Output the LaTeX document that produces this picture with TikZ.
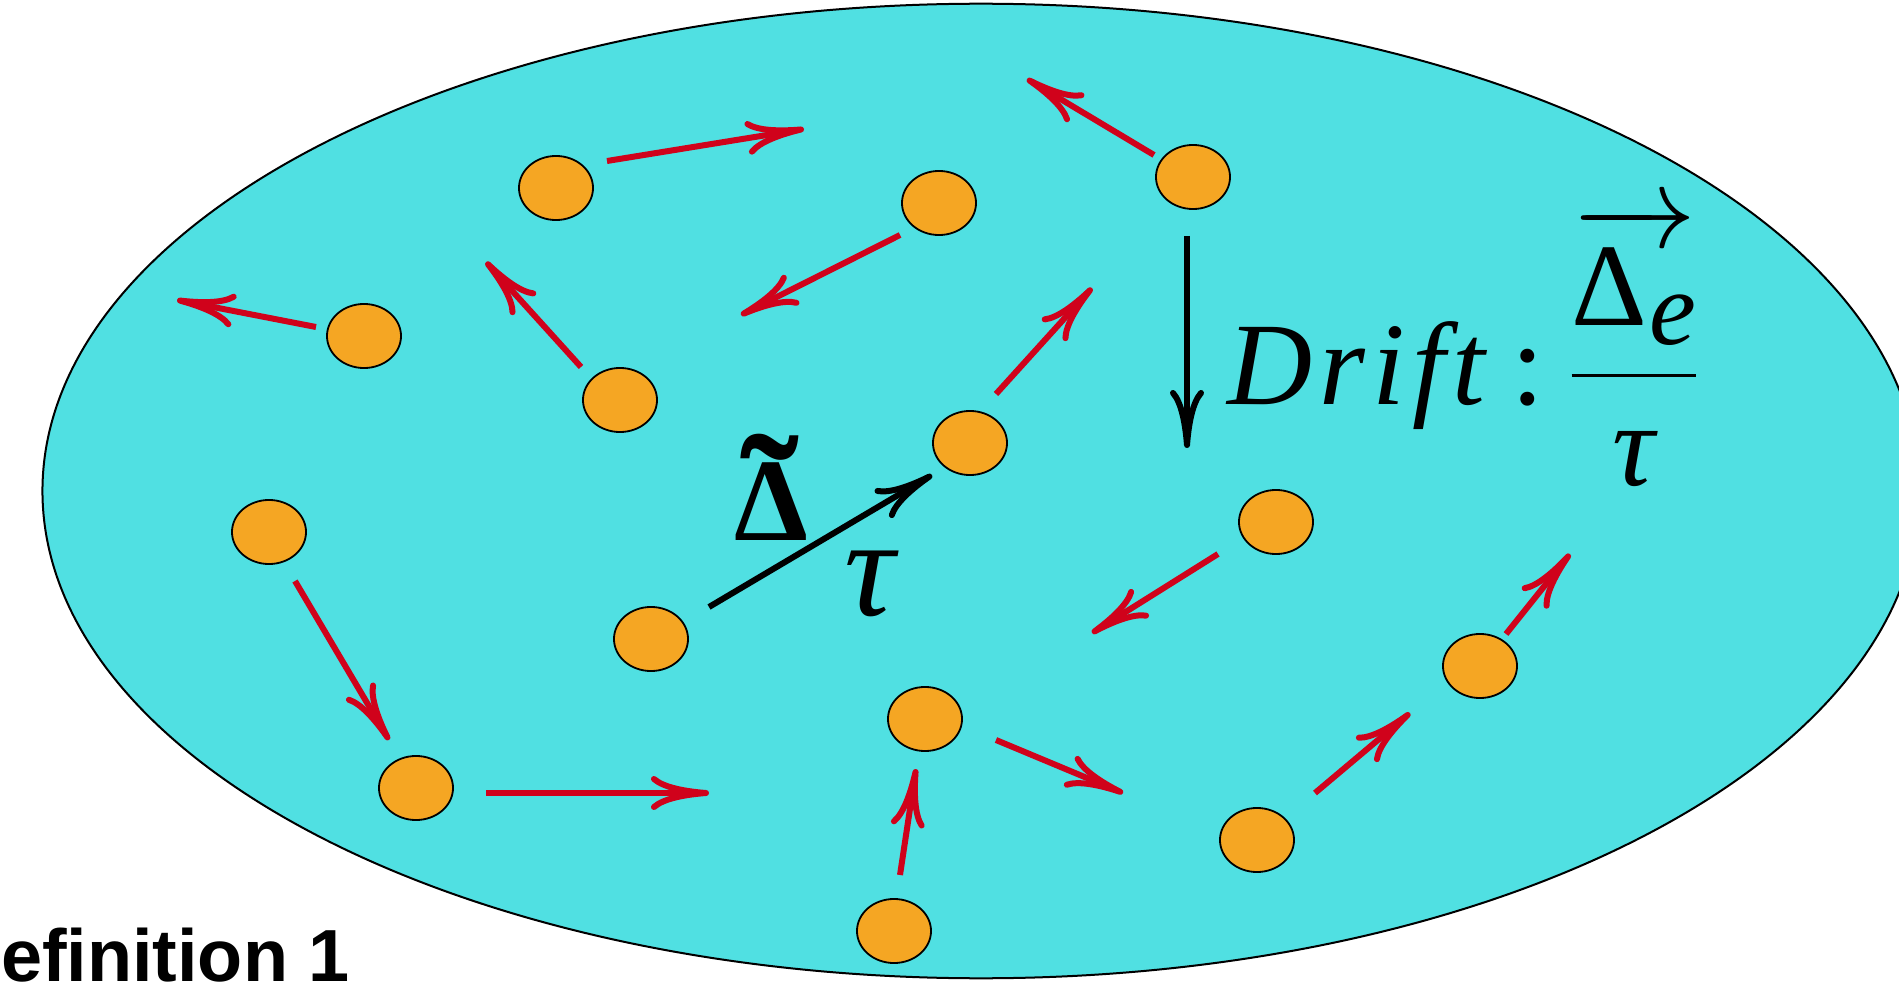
\RequirePackage{fix-cm}
\documentclass[tikz,border=0pt]{standalone}
\usepackage{fontspec}
\usepackage{amsmath}
\setmainfont{Liberation Serif}
\newfontfamily\headfont{Liberation Sans}
\usetikzlibrary{arrows.meta,shapes.geometric}

\definecolor{poolcyan}{RGB}{80,224,226}
\definecolor{dotorange}{RGB}{245,166,35}
\definecolor{movered}{RGB}{208,2,27}

\begin{document}
\begin{tikzpicture}[
  x=0.01cm, y=-0.01cm,
  >={Computer Modern Rightarrow[length=0.58cm, width=0.34cm]},
  pool/.style={draw, ellipse, line width=0.02cm, fill=poolcyan,
               minimum width=18.76cm, minimum height=9.74cm, inner sep=0pt},
  dot/.style={draw, ellipse, line width=0.018cm, fill=dotorange,
              minimum width=0.74cm, minimum height=0.64cm, inner sep=0pt},
  move/.style={->, draw=movered, line width=0.06cm},
  driftarrow/.style={->, draw=black, line width=0.06cm},
  formula/.style={inner sep=0pt, font=\fontsize{33.5}{40}\selectfont},
]
\useasboundingbox (0,0) rectangle (1899,982);
\clip (0,0) rectangle (1899,982);

% ── the pool ──
\node[pool] (pool) at (981,491) {};

% ── particles ──
\node[dot] (d1)  at (556,188) {};
\node[dot] (d2)  at (939,203) {};
\node[dot] (d3)  at (1193,177) {};
\node[dot] (d4)  at (364,336) {};
\node[dot] (d5)  at (620,400) {};
\node[dot] (d6)  at (970,443) {};
\node[dot] (d7)  at (269,532) {};
\node[dot] (d8)  at (1276,522) {};
\node[dot] (d9)  at (651,639) {};
\node[dot] (d10) at (1480,666) {};
\node[dot] (d11) at (925,719) {};
\node[dot] (d12) at (416,788) {};
\node[dot] (d13) at (1257,840) {};
\node[dot] (d14) at (894,931) {};

% ── ends of the moves (start / tip) ──
\coordinate (s1) at (607,161);   \coordinate (t1) at (804,129);
\coordinate (s2) at (900,235);   \coordinate (t2) at (741,315);
\coordinate (s3) at (1154,155);  \coordinate (t3) at (1027,79);
\coordinate (s4) at (316,327);   \coordinate (t4) at (177,300);
\coordinate (s5) at (581,367);   \coordinate (t5) at (486,262);
\coordinate (s6) at (996,394);   \coordinate (t6) at (1092,288);
\coordinate (s7) at (295,581);   \coordinate (t7) at (389,740);
\coordinate (s8) at (1218,554);  \coordinate (t8) at (1092,633);
\coordinate (s10) at (1506,634); \coordinate (t10) at (1570,554);
\coordinate (s11) at (996,740);  \coordinate (t11) at (1123,793);
\coordinate (s12) at (486,793);  \coordinate (t12) at (709,793);
\coordinate (s13) at (1315,793); \coordinate (t13) at (1410,713);
\coordinate (s14) at (900,875);  \coordinate (t14) at (916,769);
\coordinate (s9) at (709,607);   \coordinate (t9) at (932,475);
\coordinate (sd) at (1187,236);  \coordinate (td) at (1187,448);

% ── random moves ──
\draw[move] (s1) -- (t1);
\draw[move] (s2) -- (t2);
\draw[move] (s3) -- (t3);
\draw[move] (s4) -- (t4);
\draw[move] (s5) -- (t5);
\draw[move] (s6) -- (t6);
\draw[move] (s7) -- (t7);
\draw[move] (s8) -- (t8);
\draw[move] (s10) -- (t10);
\draw[move] (s11) -- (t11);
\draw[move] (s12) -- (t12);
\draw[move] (s13) -- (t13);
\draw[move] (s14) -- (t14);

% ── drift arrows ──
\draw[driftarrow] (s9) -- (t9);
\draw[driftarrow] (sd) -- (td);

% ── labels ──
\node[formula, anchor=base, font=\bfseries\fontsize{33.5}{40}\selectfont] (dtilde) at (771,540) {Δ};
\node[formula, anchor=base, font=\bfseries\fontsize{50}{56}\selectfont] (tildemark) at (770,557) {˜};
\node[inner sep=0pt, anchor=base, font=\fontsize{40}{48}\selectfont] (tau) at (872,615) {\textit{τ}};
\node[formula, anchor=base west] (drift) at (1227,405)
  {\textit{D\kern.06em r\kern.06em i\kern.06em f\kern.06em t}\hspace{0.2em}:\hspace{0.2em}%
   $\dfrac{\overrightarrow{\text{Δ\kern.02em\raisebox{-0.16em}{\fontsize{30}{36}\selectfont\itshape e}}}}{\text{\itshape τ}}$};
\node[inner sep=0pt, anchor=base west, font=\headfont\bfseries\fontsize{21}{25}\selectfont] (defn) at (-53,981)
  {Definition 1};

\end{tikzpicture}
\end{document}
